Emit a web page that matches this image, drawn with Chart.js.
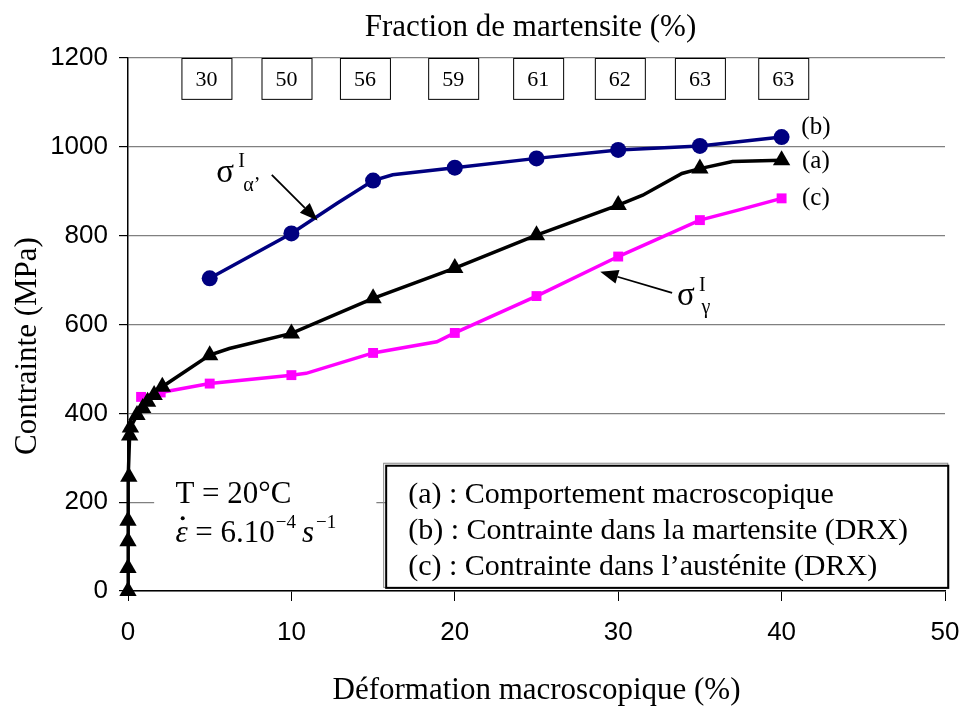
<!DOCTYPE html>
<html>
<head>
<meta charset="utf-8">
<script src="https://cdn.jsdelivr.net/npm/chart.js@4.4.0/dist/chart.umd.min.js"></script>
<style>
  html, body { margin: 0; padding: 0; background: #fff; }
</style>
</head>
<body>
<canvas id="chart" width="968" height="706"></canvas>
<script>
// (a) macroscopic behaviour - measured points (triangles)
const epsA = [0, 0, 0, 0, 0.05, 0.1, 0.15, 0.55, 0.9, 1.2, 1.6, 2.1, 5, 10, 15, 20, 25, 30, 35, 40];
const sigA = [0, 52, 112, 158, 257, 350, 368, 396, 412, 426, 441, 460, 531, 580, 659, 727, 801, 869, 951, 970];
// extra bends of the drawn curve (no marker)
const bendEpsA = [6.2, 31.5, 33.9, 37];
const bendSigA = [546, 891, 940, 967];

// (b) stress in martensite (circles)
const epsB = [5, 10, 15, 20, 25, 30, 35, 40];
const sigB = [704, 805, 924, 953, 974, 993, 1002, 1022];
const bendEpsB = [12.8, 16.2];
const bendSigB = [873, 937];

// (c) stress in austenite (squares)
const epsC = [0.8, 2, 5, 10, 15, 20, 25, 30, 35, 40];
const sigC = [437, 447, 467, 486, 536, 581, 664, 753, 835, 884];
const bendEpsC = [10.9, 18.9, 37.4];
const bendSigC = [490, 561, 858];

// martensite fraction boxes along the top
const fracPos = [4.8, 9.7, 14.5, 19.9, 25.1, 30.1, 35, 40.1];
const fracVal = ['30', '50', '56', '59', '61', '62', '63', '63'];

const xTicks = [0, 10, 20, 30, 40, 50];
const yTicks = [0, 200, 400, 600, 800, 1000, 1200];

const legendLines = [
  '(a) : Comportement macroscopique',
  '(b) : Contrainte dans la martensite (DRX)',
  '(c) : Contrainte dans l\u2019aust\u00e9nite (DRX)'
];

const serif = '"Liberation Serif", "Times New Roman", serif';
const sans = '"Liberation Sans", Arial, sans-serif';

function pts(xs, ys) {
  return xs.map((x, i) => ({ x: x, y: ys[i] }));
}
function curve(xs, ys, bx, by) {
  return pts(xs, ys).concat(pts(bx, by)).sort((p, q) => p.x - q.x || p.y - q.y);
}

function arrow(ctx, x1, y1, x2, y2) {
  const a = Math.atan2(y2 - y1, x2 - x1);
  const head = 18, wing = 7;
  const bx = x2 - head * Math.cos(a), by = y2 - head * Math.sin(a);
  ctx.strokeStyle = '#000';
  ctx.fillStyle = '#000';
  ctx.lineWidth = 1.8;
  ctx.beginPath();
  ctx.moveTo(x1, y1);
  ctx.lineTo(bx, by);
  ctx.stroke();
  ctx.beginPath();
  ctx.moveTo(x2, y2);
  ctx.lineTo(bx + wing * Math.sin(a), by - wing * Math.cos(a));
  ctx.lineTo(bx - wing * Math.sin(a), by + wing * Math.cos(a));
  ctx.closePath();
  ctx.fill();
}

const annotations = {
  id: 'annotations',
  afterDraw(chart) {
    const ctx = chart.ctx;
    const sx = chart.scales.x, sy = chart.scales.y;
    const X = v => sx.getPixelForValue(v);
    const Y = v => sy.getPixelForValue(v);
    const area = chart.chartArea;
    ctx.save();
    ctx.textBaseline = 'alphabetic';
    ctx.fillStyle = '#000';

    // titles
    ctx.textAlign = 'center';
    ctx.font = '31px ' + serif;
    ctx.fillText('Fraction de martensite (%)', (area.left + area.right) / 2 - 6, 36);
    ctx.fillText('D\u00e9formation macroscopique (%)', (area.left + area.right) / 2, 699);
    ctx.save();
    ctx.translate(36, 346);
    ctx.rotate(-Math.PI / 2);
    ctx.fillText('Contrainte (MPa)', 0, 0);
    ctx.restore();

    // martensite fraction boxes
    ctx.font = '22px ' + serif;
    fracPos.forEach((p, i) => {
      const cx = X(p);
      const top = Y(1200), bot = Y(1108);
      ctx.fillStyle = '#fff';
      ctx.fillRect(cx - 25, top, 50, bot - top);
      ctx.strokeStyle = '#000';
      ctx.lineWidth = 1;
      ctx.strokeRect(cx - 25 + 0.5, top + 0.5, 50, bot - top);
      ctx.fillStyle = '#000';
      ctx.fillText(fracVal[i], cx, (top + bot) / 2 + 8);
    });

    // series tags at line ends
    ctx.font = '25px ' + serif;
    ctx.fillText('(b)', X(42.1), Y(1022) - 3);
    ctx.fillText('(a)', X(42.1), Y(970) + 8);
    ctx.fillText('(c)', X(42.1), Y(884) + 7);

    // sigma alpha' label + arrow
    ctx.textAlign = 'left';
    ctx.font = '33px ' + serif;
    ctx.fillText('\u03c3', X(5.4), Y(920));
    ctx.font = '20px ' + serif;
    ctx.fillText('I', X(6.75), Y(955));
    ctx.fillText('\u03b1\u2019', X(7.05), Y(900));
    arrow(ctx, X(8.8), Y(937), X(11.6), Y(834));

    // sigma gamma label + arrow
    ctx.font = '33px ' + serif;
    ctx.fillText('\u03c3', X(33.6), Y(645));
    ctx.font = '20px ' + serif;
    ctx.fillText('I', X(34.95), Y(675));
    ctx.fillText('\u03b3', X(35.1), Y(625));
    arrow(ctx, X(33.3), Y(671), X(28.9), Y(719));

    // conditions box
    ctx.fillStyle = '#fff';
    ctx.fillRect(X(1.6), Y(272), X(15.2) - X(1.6), Y(35) - Y(272));
    ctx.fillStyle = '#000';
    ctx.font = '31px ' + serif;
    const tx = X(2.9);
    ctx.fillText('T = 20\u00b0C', tx, Y(198));
    let y2 = Y(110);
    ctx.font = 'italic 31px ' + serif;
    ctx.fillText('\u03b5', tx, y2);
    const ew = ctx.measureText('\u03b5').width;
    ctx.beginPath();
    ctx.arc(tx + ew * 0.6, y2 - 24, 2, 0, Math.PI * 2);
    ctx.fill();
    let cx = tx + ew;
    ctx.font = '31px ' + serif;
    ctx.fillText(' = 6.10', cx, y2);
    cx += ctx.measureText(' = 6.10').width;
    ctx.font = '19px ' + serif;
    ctx.fillText('\u22124', cx + 1, y2 - 14);
    cx += ctx.measureText('\u22124').width + 7;
    ctx.font = 'italic 31px ' + serif;
    ctx.fillText('s', cx, y2);
    cx += ctx.measureText('s').width + 2;
    ctx.font = '19px ' + serif;
    ctx.fillText('\u22121', cx, y2 - 14);

    // legend box
    const lx = X(15.8), ly = Y(282), rx = X(50.2), by = Y(7);
    ctx.fillStyle = '#fff';
    ctx.fillRect(lx, ly, rx - lx, by - ly);
    ctx.strokeStyle = '#888';
    ctx.lineWidth = 1;
    ctx.strokeRect(lx - 2.5, ly - 2.5, rx - lx + 2, by - ly + 2);
    ctx.strokeStyle = '#000';
    ctx.lineWidth = 2;
    ctx.strokeRect(lx, ly, rx - lx, by - ly);
    ctx.fillStyle = '#000';
    ctx.font = '30px ' + serif;
    legendLines.forEach((t, i) => {
      ctx.fillText(t, lx + 22, ly + 37 + i * 36);
    });

    ctx.restore();
  }
};

const lineStyle = { showLine: true, pointRadius: 0, borderWidth: 3.5, tension: 0, fill: false, clip: false };
const markStyle = { showLine: false, borderWidth: 0, clip: false };

new Chart(document.getElementById('chart'), {
  type: 'scatter',
  data: {
    datasets: [
      Object.assign({ data: pts(epsA, sigA), pointStyle: 'triangle', pointRadius: 10,
        backgroundColor: '#000', order: 1 }, markStyle),
      Object.assign({ data: pts(epsB, sigB), pointStyle: 'circle', pointRadius: 8,
        backgroundColor: '#000080', order: 2 }, markStyle),
      Object.assign({ data: pts(epsC, sigC), pointStyle: 'rect', pointRadius: 7,
        backgroundColor: '#ff00ff', order: 3 }, markStyle),
      Object.assign({ data: curve(epsA, sigA, bendEpsA, bendSigA), borderColor: '#000', order: 4 }, lineStyle),
      Object.assign({ data: curve(epsB, sigB, bendEpsB, bendSigB), borderColor: '#000080', order: 5 }, lineStyle),
      Object.assign({ data: curve(epsC, sigC, bendEpsC, bendSigC), borderColor: '#ff00ff', order: 6 }, lineStyle)
    ]
  },
  options: {
    responsive: false,
    animation: false,
    layout: { padding: { top: 58, right: 23, left: 0, bottom: 0 } },
    plugins: { legend: { display: false }, tooltip: { enabled: false }, title: { display: false } },
    scales: {
      x: {
        type: 'linear', min: 0, max: 50,
        afterFit: s => { s.height = 115; s.paddingLeft = 0; s.paddingRight = 0; },
        afterBuildTicks: s => { s.ticks = xTicks.map(v => ({ value: v })); },
        grid: { drawOnChartArea: false, tickLength: 10, color: '#000' },
        border: { color: '#000', width: 1.5 },
        ticks: { font: { family: sans, size: 26 }, color: '#000', padding: 16, callback: v => String(v) }
      },
      y: {
        type: 'linear', min: 0, max: 1200,
        afterFit: s => { s.width = 128; },
        afterBuildTicks: s => { s.ticks = yTicks.map(v => ({ value: v })); },
        grid: { color: '#808080', lineWidth: 1.2, tickLength: 9, tickColor: '#000' },
        border: { color: '#000', width: 1.5 },
        ticks: { font: { family: sans, size: 26 }, color: '#000', padding: 11, callback: v => String(v) }
      }
    }
  },
  plugins: [annotations]
});
</script>
</body>
</html>
